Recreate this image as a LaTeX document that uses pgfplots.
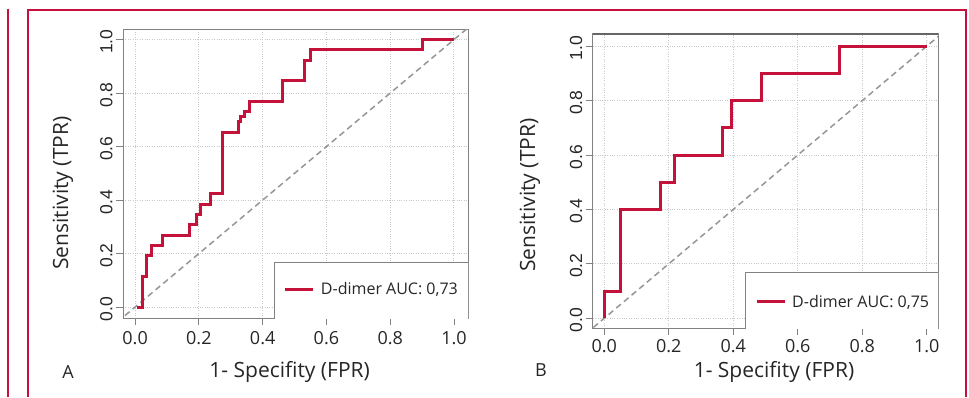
\documentclass[border=0pt]{standalone}
\usepackage{pgfplots}
\pgfplotsset{compat=1.18}
\usepackage{fontspec}
\setmainfont{Open Sans}
\newfontfamily\arialfont{Liberation Sans}
\definecolor{crim}{RGB}{196,18,58}
\definecolor{framec}{RGB}{200,16,62}
\definecolor{gridc}{RGB}{200,200,200}
\definecolor{boxc}{RGB}{130,130,130}
\definecolor{diagc}{RGB}{150,150,150}

\pgfplotstableread{
x y
0.005 0
0.024 0
0.024 0.115
0.035 0.115
0.035 0.192
0.052 0.192
0.052 0.231
0.087 0.231
0.087 0.269
0.170 0.269
0.170 0.308
0.191 0.308
0.191 0.346
0.204 0.346
0.204 0.385
0.235 0.385
0.235 0.423
0.275 0.423
0.275 0.654
0.324 0.654
0.324 0.692
0.332 0.692
0.332 0.712
0.342 0.712
0.342 0.731
0.360 0.731
0.360 0.769
0.463 0.769
0.463 0.846
0.530 0.846
0.530 0.923
0.549 0.923
0.549 0.962
0.902 0.962
0.902 1.0
1.0 1.0
}\rocA

\pgfplotstableread{
x y
0 0
0 0.1
0.05 0.1
0.05 0.4
0.175 0.4
0.175 0.5
0.219 0.5
0.219 0.6
0.366 0.6
0.366 0.7
0.393 0.7
0.393 0.8
0.488 0.8
0.488 0.9
0.728 0.9
0.728 1.0
1.0 1.0
}\rocB

\pgfplotsset{
  rocaxis/.style={
    scale only axis,
    axis line style={boxc, line width=1pt},
    xtick={0,0.2,0.4,0.6,0.8,1.0},
    ytick={0,0.2,0.4,0.6,0.8,1.0},
    xticklabels={0.0,0.2,0.4,0.6,0.8,1.0},
    yticklabels={0.0,0.2,0.4,0.6,0.8,1.0},
    xtick pos=bottom, ytick pos=left,
    tick align=outside,
    major tick length=7pt,
    tick style={boxc, line width=0.8pt},
    grid=major,
    major grid style={gridc, dotted, line width=1pt},
    xticklabel style={font=\fontsize{18}{20}\selectfont, text=black!85},
    yticklabel style={font=\arialfont\fontsize{17.5}{19}\selectfont, rotate=90, anchor=south, text=black!85},
    label style={font=\fontsize{21}{23}\selectfont, text=black!85},
    legend style={draw=none, fill=none, inner sep=0pt, font=\fontsize{16}{18}\selectfont, text=black!85,
      /tikz/every odd column/.append style={column sep=4pt}},
    legend cell align=left,
    legend image code/.code={\draw[#1, line width=3pt] (0pt,0pt) -- (28pt,0pt);},
    clip=true,
  }
}

\begin{document}
\begin{tikzpicture}
\path[use as bounding box] (0pt,0pt) rectangle (969pt,397pt);
% frame
\draw[framec, line width=2pt] (7.5pt,388pt) -- (7.5pt,0pt);
\draw[framec, line width=2pt] (28pt,0pt) -- (28pt,387pt) -- (966pt,387pt) -- (966pt,0pt);

% Panel A
\begin{axis}[rocaxis,
  at={(123pt,79pt)}, anchor=south west,
  width=345pt, height=288pt,
  xmin=-0.038, xmax=1.044, ymin=-0.041, ymax=1.036,
  xlabel={1- Specifity (FPR)},
  ylabel={Sensitivity (TPR)},
  xlabel style={at={(rel axis cs:0.483,-0.1875)}, anchor=center},
  ylabel style={at={(rel axis cs:-0.174,0.434)}, anchor=center},
  xticklabel style={yshift=-3pt},
  yticklabel style={xshift=-2pt},
  legend style={at={(rel axis cs:0.466,0.1007)}, anchor=west},
]
\addplot[diagc, dashed, line width=1.5pt, dash pattern=on 6pt off 4pt, forget plot] coordinates {(-0.2,-0.2) (1.2,1.2)};
\draw[boxc, line width=1pt, fill=white] (rel axis cs:0.4377,-0.1) rectangle (rel axis cs:1.1,0.194);
\addplot[crim, line width=3pt, line join=miter] table[x=x,y=y] {\rocA};
\addlegendentry{D-dimer AUC: 0,73}
\end{axis}
\node[font=\fontsize{18}{20}\selectfont, text=black!85] at (68pt,25pt) {A};

% Panel B
\begin{axis}[rocaxis,
  at={(592.7pt,69pt)}, anchor=south west,
  width=345.3pt, height=294pt,
  xmin=-0.036, xmax=1.035, ymin=-0.036, ymax=1.045,
  xlabel={1- Specifity (FPR)},
  ylabel={Sensitivity (TPR)},
  xlabel style={at={(rel axis cs:0.525,-0.149)}, anchor=center},
  ylabel style={at={(rel axis cs:-0.1816,0.452)}, anchor=center},
  xticklabel style={yshift=-1pt},
  yticklabel style={xshift=-2pt},
  legend style={at={(rel axis cs:0.470,0.0895)}, anchor=west},
]
\addplot[diagc, dashed, line width=1.5pt, dash pattern=on 6pt off 4pt, forget plot] coordinates {(-0.2,-0.2) (1.2,1.2)};
\draw[boxc, line width=1pt, fill=white] (rel axis cs:0.443,-0.1) rectangle (rel axis cs:1.1,0.189);
\addplot[crim, line width=3pt, line join=miter] table[x=x,y=y] {\rocB};
\addlegendentry{D-dimer AUC: 0,75}
\end{axis}
\draw[black!60, line width=1.5pt] (592.7pt,363pt) -- (938pt,363pt);
\node[font=\fontsize{18}{20}\selectfont, text=black!85] at (541pt,27pt) {B};
\end{tikzpicture}
\end{document}
